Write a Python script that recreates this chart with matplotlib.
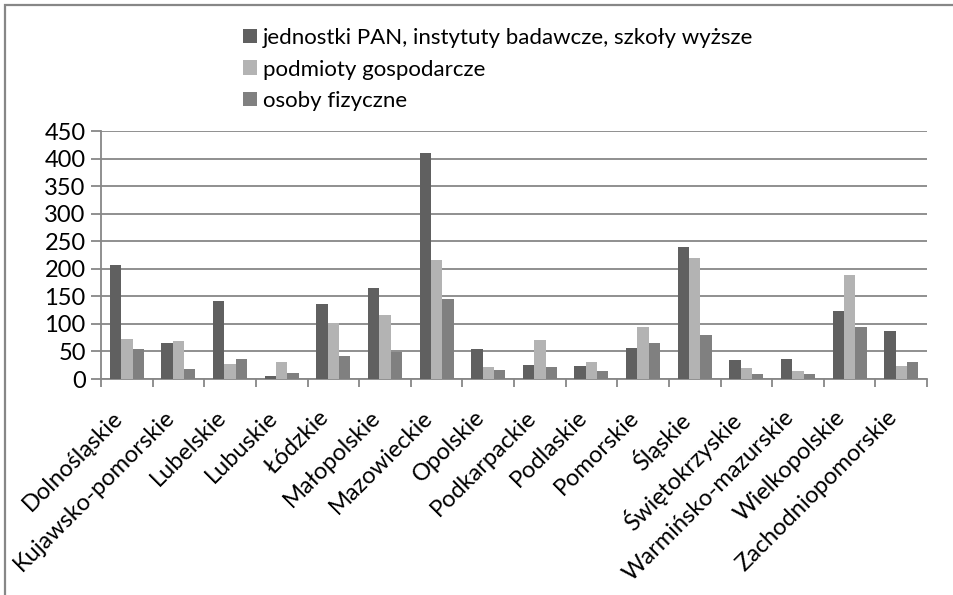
import numpy as np
import matplotlib.pyplot as plt
from matplotlib.patches import Rectangle

wojewodztwa = ["Dolnośląskie", "Kujawsko-pomorskie", "Lubelskie", "Lubuskie",
               "Łódzkie", "Małopolskie", "Mazowieckie", "Opolskie",
               "Podkarpackie", "Podlaskie", "Pomorskie", "Śląskie",
               "Świętokrzyskie", "Warmińsko-mazurskie", "Wielkopolskie",
               "Zachodniopomorskie"]
jednostki = [206, 65, 142, 5, 136, 165, 410, 54, 25, 23, 57, 239, 35, 36, 124, 87]
podmioty = [72, 69, 28, 31, 101, 117, 216, 22, 70, 31, 95, 219, 20, 15, 189, 24]
osoby = [54, 19, 37, 11, 42, 49, 146, 16, 22, 15, 65, 80, 10, 10, 95, 30]
serie = ["jednostki PAN, instytuty badawcze, szkoły wyższe",
         "podmioty gospodarcze", "osoby fizyczne"]
kolory = ["#606060", "#b3b3b3", "#808080"]
yticks = [0, 50, 100, 150, 200, 250, 300, 350, 400, 450]

plt.rcParams['font.family'] = ['Lato', 'DejaVu Sans']
siatka = "#878787"

fig = plt.figure(figsize=(9.54, 5.95), dpi=100)
ax = fig.add_axes([0.1059, 0.363, 0.8658, 0.4168])

x = np.arange(len(wojewodztwa))
w = 0.22
for i, (vals, lab, col) in enumerate(zip([jednostki, podmioty, osoby], serie, kolory)):
    ax.bar(x + (i - 1) * w, vals, w, color=col, label=lab, zorder=3)

ax.set_xlim(-0.5, len(wojewodztwa) - 0.5)
ax.set_ylim(0, 450)
ax.set_yticks(yticks)
ax.tick_params(axis='y', labelsize=17, length=7, width=1.3, color=siatka, pad=4)
ax.yaxis.grid(True, color=siatka, linewidth=1.3, zorder=0)

ax.set_xticks(x)
ax.set_xticklabels(wojewodztwa, rotation=45, ha='right', fontsize=17)
ax.set_xticks(np.arange(len(wojewodztwa) + 1) - 0.5, minor=True)
ax.tick_params(axis='x', which='major', length=0, pad=20)
ax.tick_params(axis='x', which='minor', length=6, width=1.3, color=siatka)

for s in ['top', 'right']:
    ax.spines[s].set_visible(False)
for s in ['left', 'bottom']:
    ax.spines[s].set_color(siatka)
    ax.spines[s].set_linewidth(1.3)

fig.legend(loc='upper left', bbox_to_anchor=(0.2547, 0.953), frameon=False,
           fontsize=16, handlelength=0.62, handleheight=0.62, handletextpad=0.28,
           labelspacing=0.52, borderpad=0, borderaxespad=0)

# ramka wokół wykresu
fig.patches.append(Rectangle((5 / 954, -0.05), 1.2, 1.05 - 5 / 595,
                             transform=fig.transFigure, fill=False,
                             edgecolor=siatka, linewidth=1.6))

fig.savefig("out.png", dpi=100)
